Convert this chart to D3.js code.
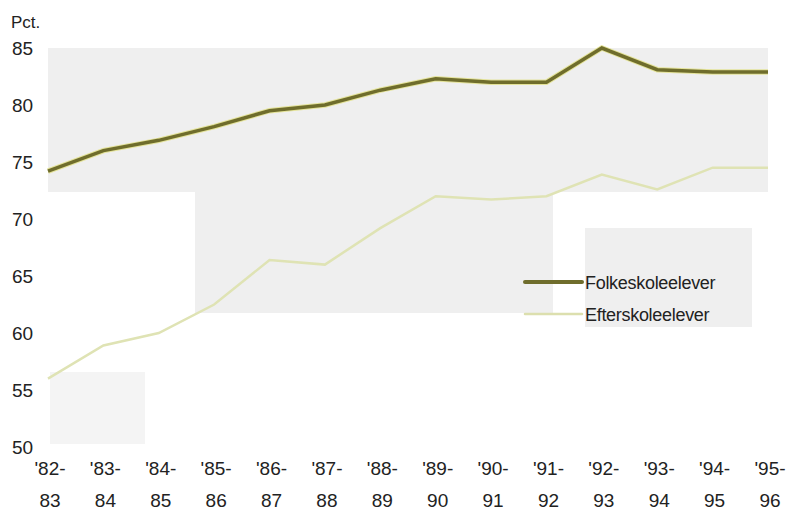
<!DOCTYPE html>
<html>
<head>
<meta charset="utf-8">
<script src="https://cdn.jsdelivr.net/npm/d3@7"></script>
<style>
  body { margin: 0; background: #fff; }
  text { font-family: "Liberation Sans Narrow", "Liberation Sans", Arial, sans-serif; fill: #222; }
</style>
</head>
<body>
<div id="vizContainer"></div>
<script>
// school years, two rows per tick label
const years = ["'82-|83", "'83-|84", "'84-|85", "'85-|86", "'86-|87", "'87-|88", "'88-|89",
               "'89-|90", "'90-|91", "'91-|92", "'92-|93", "'93-|94", "'94-|95", "'95-|96"];
const folkeskole = [74.2, 76.0, 76.9, 78.1, 79.5, 80.0, 81.3, 82.3, 82.0, 82.0, 85.0, 83.1, 82.9, 82.9];
const efterskole = [56.0, 58.9, 60.0, 62.5, 66.4, 66.0, 69.2, 72.0, 71.7, 72.0, 73.9, 72.6, 74.5, 74.5];
const yTicks = [50, 55, 60, 65, 70, 75, 80, 85];

const width = 791;
const height = 512;

const svg = d3.select("#vizContainer")
  .append("svg")
  .attr("width", width)
  .attr("height", height);

const x = d3.scalePoint().domain(years).range([48, 768]);
const y = d3.scaleLinear().domain([50, 85]).range([447, 48]);

// scanned halftone background, approximated by flat grey blocks
const bg = "#efefef";
svg.append("rect").attr("x", 48).attr("y", 48).attr("width", 720).attr("height", 144).attr("fill", bg);
svg.append("rect").attr("x", 195).attr("y", 190).attr("width", 358).attr("height", 123).attr("fill", bg);
svg.append("rect").attr("x", 585).attr("y", 228).attr("width", 167).attr("height", 99).attr("fill", bg);
svg.append("rect").attr("x", 50).attr("y", 372).attr("width", 95).attr("height", 72).attr("fill", "#f4f4f4");

// y axis labels
svg.append("g")
  .selectAll("text")
  .data(yTicks)
  .enter()
  .append("text")
  .attr("x", 12)
  .attr("y", d => y(d) + 7)
  .attr("font-size", 19)
  .text(d => d);

svg.append("text")
  .attr("x", 11)
  .attr("y", 28)
  .attr("font-size", 17)
  .text("Pct.");

// x axis labels (two lines)
const xLab = svg.append("g")
  .selectAll("text")
  .data(years)
  .enter()
  .append("text")
  .attr("text-anchor", "middle")
  .attr("font-size", 19);
xLab.append("tspan")
  .attr("x", d => x(d) + 2)
  .attr("y", 475)
  .text(d => d.split("|")[0]);
xLab.append("tspan")
  .attr("x", d => x(d) + 2)
  .attr("y", 507)
  .text(d => d.split("|")[1]);

const line = d3.line()
  .x((d, i) => x(years[i]))
  .y(d => y(d));

svg.append("path")
  .datum(efterskole)
  .attr("fill", "none")
  .attr("stroke", "#dfe3b4")
  .attr("stroke-width", 2.5)
  .attr("d", line);

svg.append("path")
  .datum(folkeskole)
  .attr("fill", "none")
  .attr("stroke", "#e4e39a")
  .attr("stroke-width", 5.5)
  .attr("d", line);

svg.append("path")
  .datum(folkeskole)
  .attr("fill", "none")
  .attr("stroke", "#6f6d2c")
  .attr("stroke-width", 3.5)
  .attr("d", line);

// legend
const legend = [
  { name: "Folkeskoleelever", color: "#6f6d2c", w: 4 },
  { name: "Efterskoleelever", color: "#dcdfae", w: 2.5 }
];
const lg = svg.append("g")
  .selectAll("g")
  .data(legend)
  .enter()
  .append("g")
  .attr("transform", (d, i) => `translate(0, ${282 + i * 32})`);
lg.append("line")
  .attr("x1", 525).attr("x2", 582)
  .attr("y1", 0).attr("y2", 0)
  .attr("stroke", d => d.color)
  .attr("stroke-width", d => d.w)
  .attr("stroke-linecap", "round");
lg.append("text")
  .attr("x", 585)
  .attr("y", 7)
  .attr("font-size", 18)
  .attr("letter-spacing", -0.3)
  .text(d => d.name);
</script>
</body>
</html>
